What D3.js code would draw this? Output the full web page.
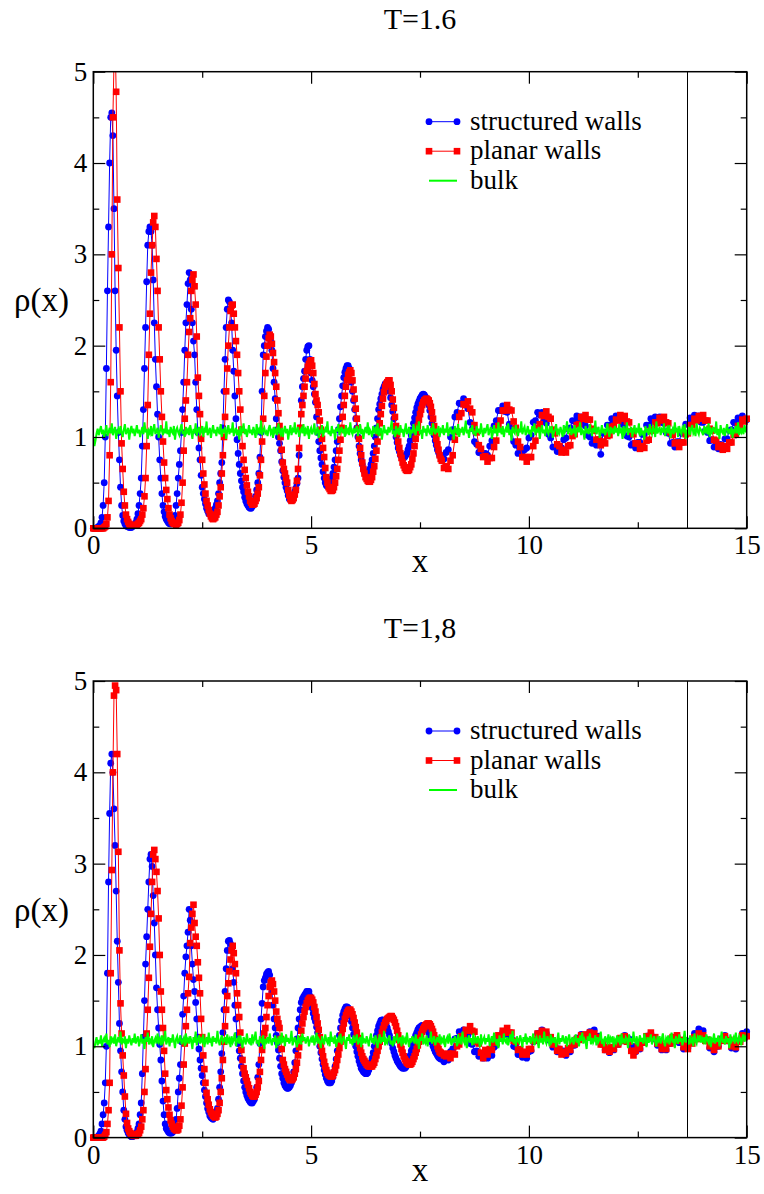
<!DOCTYPE html>
<html>
<head>
<meta charset="utf-8">
<script src="https://cdn.jsdelivr.net/npm/d3@7"></script>
<style>
  body { margin: 0; background: #fff; }
  text { font-family: "Liberation Serif", "Times New Roman", Times, serif; fill: #000; }
</style>
</head>
<body>
<svg id="chart" width="764" height="1194"></svg>
<script>
// axis ticks and labels
const xMajor = [0, 5, 10, 15];
const xMinor = [2.5, 7.5, 12.5];
const yMajor = [0, 1, 2, 3, 4, 5];
const yMinor = [0.5, 1.5, 2.5, 3.5, 4.5];
const titles = ['T=1.6', 'T=1,8'];
const legendLabels = ['structured walls', 'planar walls', 'bulk'];
const wallX = 13.63; // vertical marker line

// rho(x): one row per unit of x, samples evenly spaced inside the row
// T=1.6, structured walls
const structTop = [
  [0,0,0,0.005,0.01,0.02,0.03,0.06,0.12,0.25, 0.5,1.0,1.75,2.6,3.3,4.0,4.5,4.55,4.3,3.5, 2.6,1.95,1.45,1.05,0.75,0.45,0.25,0.14,0.08,0.05, 0.03,0.02,0.02,0.01,0.01,0.01,0.02,0.03,0.04,0.06],
  [0.1,0.16,0.25,0.38,0.55,0.9,1.3,1.75,2.2,2.7, 3.1,3.25,3.3,3.25,3.1,2.72,2.25,1.85,1.55,1.25, 1.0,0.75,0.55,0.38,0.25,0.18,0.13,0.1,0.08,0.06, 0.05,0.05,0.05,0.06,0.08,0.14,0.25,0.38,0.55,0.7],
  [0.85,1.05,1.3,1.6,1.95,2.25,2.45,2.68,2.8,2.72, 2.4,2.25,2.05,1.9,1.6,1.3,1.05,0.88,0.75,0.58, 0.45,0.38,0.32,0.27,0.22,0.19,0.16,0.15,0.15,0.16, 0.17,0.19,0.22,0.26,0.3,0.38,0.5,0.6,0.72,1.1],
  [1.5,1.85,2.2,2.4,2.5,2.48,2.4,2.25,1.95,1.72, 1.45,1.2,0.97,0.82,0.7,0.6,0.52,0.45,0.4,0.34, 0.3,0.27,0.25,0.23,0.22,0.22,0.24,0.26,0.3,0.35, 0.42,0.5,0.6,0.78,1.05,1.5,1.9,2.0,2.1,2.16],
  [2.2,2.18,2.12,2.05,1.95,1.75,1.6,1.42,1.2,1.08, 1.0,0.93,0.85,0.73,0.63,0.56,0.5,0.45,0.41,0.36, 0.32,0.31,0.32,0.34,0.36,0.4,0.44,0.49,0.55,0.8, 1.1,1.4,1.55,1.64,1.72,1.85,1.95,1.99,2.0,1.85],
  [1.7,1.62,1.55,1.47,1.38,1.22,1.05,0.95,0.85,0.77, 0.7,0.62,0.55,0.5,0.47,0.46,0.47,0.48,0.5,0.55, 0.6,0.67,0.75,0.85,0.95,1.08,1.2,1.33,1.45,1.56, 1.65,1.71,1.75,1.78,1.78,1.75,1.7,1.6,1.5,1.4],
  [1.3,1.2,1.1,1.0,0.9,0.82,0.75,0.7,0.65,0.62, 0.6,0.59,0.6,0.62,0.65,0.7,0.75,0.82,0.9,1.0, 1.1,1.2,1.3,1.36,1.42,1.47,1.52,1.55,1.58,1.59, 1.58,1.55,1.5,1.43,1.35,1.28,1.2,1.1,1.0,0.94],
  [0.88,0.84,0.8,0.79,0.78,0.77,0.78,0.8,0.82,0.86, 0.9,0.96,1.02,1.08,1.15,1.21,1.27,1.32,1.36,1.39, 1.42,1.44,1.46,1.47,1.46,1.44,1.42,1.39,1.35,1.29, 1.22,1.15,1.08,1.02,0.96,0.91,0.86,0.83,0.8,0.79],
  [0.78, 0.76, 0.83, 0.86, 1.0, 1.08, 1.22, 1.27, 1.37, 1.36, 1.42, 1.35, 1.31, 1.16, 1.09, 0.95, 0.92, 0.83, 0.84, 0.79],
  [0.82, 0.8, 0.9, 0.96, 1.12, 1.18, 1.29, 1.29, 1.34, 1.28, 1.27, 1.14, 1.09, 0.95, 0.91, 0.82, 0.84, 0.8, 0.86, 0.88],
  [0.99, 1.02, 1.16, 1.18, 1.27, 1.24, 1.27, 1.18, 1.15, 1.03, 0.99, 0.89, 0.89, 0.84, 0.89, 0.88, 0.97, 0.99, 1.09, 1.1],
  [1.18, 1.17, 1.23, 1.2, 1.22, 1.14, 1.12, 1.02, 1.0, 0.93, 0.95, 0.91, 0.97, 0.81, 1.04, 1.05, 1.13, 1.13, 1.2, 1.18],
  [1.23, 1.2, 1.22, 1.14, 1.12, 1.01, 1.0, 0.91, 0.93, 0.88, 0.94, 0.94, 1.03, 1.03, 1.13, 1.13, 1.2, 1.17, 1.22, 1.18],
  [1.22, 1.16, 1.15, 1.05, 1.04, 0.93, 0.94, 0.89, 0.95, 0.95, 1.04, 1.05, 1.14, 1.14, 1.21, 1.19, 1.24, 1.2, 1.23, 1.16],
  [1.16, 1.07, 1.05, 0.96, 0.97, 0.89, 0.92, 0.87, 0.92, 0.9, 0.98, 0.98, 1.07, 1.08, 1.16, 1.15, 1.21, 1.18, 1.23, 1.18],
  [1.19]
];
// T=1.6, planar walls
const planarTop = [
  [0,0,0,0,0,0,0,0,0,0, 0.01,0.02,0.05,0.12,0.3,0.8,1.6,3.0,4.5,5.1, 5.4,4.78,3.6,2.85,2.2,1.5,0.93,0.65,0.4,0.25, 0.15,0.1,0.07,0.05,0.04,0.03,0.03,0.03,0.03,0.03],
  [0.04,0.05,0.06,0.08,0.1,0.15,0.22,0.35,0.55,0.9, 1.35,1.9,2.35,2.8,3.1,3.35,3.42,3.3,2.95,2.6, 2.2,1.85,1.5,1.22,0.95,0.72,0.55,0.42,0.32,0.22, 0.15,0.11,0.08,0.06,0.05,0.05,0.04,0.05,0.06,0.09],
  [0.15,0.28,0.5,0.85,1.2,1.4,1.6,1.9,2.15,2.3, 2.6,2.72,2.78,2.65,2.45,2.1,1.65,1.45,1.25,0.98, 0.75,0.6,0.48,0.38,0.3,0.25,0.2,0.16,0.13,0.11, 0.1,0.11,0.12,0.15,0.18,0.25,0.35,0.45,0.6,0.8],
  [1.0,1.22,1.5,1.75,2.0,2.2,2.38,2.44,2.45,2.35, 2.2,2.05,1.9,1.7,1.5,1.3,1.08,0.9,0.75,0.64, 0.55,0.47,0.4,0.35,0.3,0.28,0.26,0.26,0.27,0.3, 0.33,0.38,0.45,0.58,0.75,0.95,1.2,1.45,1.7,1.88],
  [2.0,2.08,2.12,2.1,2.02,1.92,1.82,1.7,1.55,1.4, 1.26,1.12,1.0,0.86,0.72,0.65,0.6,0.55,0.5,0.42, 0.36,0.32,0.3,0.31,0.33,0.37,0.42,0.52,0.65,0.88, 1.1,1.25,1.35,1.45,1.55,1.64,1.72,1.77,1.8,1.83],
  [1.84,1.78,1.7,1.58,1.47,1.4,1.35,1.27,1.18,1.08, 0.98,0.88,0.78,0.66,0.56,0.5,0.45,0.43,0.41,0.41, 0.42,0.45,0.5,0.57,0.65,0.75,0.85,0.97,1.1,1.22, 1.35,1.45,1.55,1.62,1.68,1.71,1.73,1.7,1.62,1.52],
  [1.42,1.31,1.2,1.09,0.98,0.88,0.8,0.72,0.65,0.6, 0.56,0.54,0.52,0.51,0.51,0.53,0.56,0.62,0.68,0.76, 0.85,0.95,1.05,1.15,1.25,1.34,1.42,1.49,1.55,1.58, 1.6,1.62,1.62,1.57,1.5,1.41,1.32,1.22,1.12,1.03],
  [0.95,0.88,0.82,0.77,0.72,0.69,0.66,0.64,0.63,0.63, 0.64,0.67,0.7,0.76,0.82,0.9,0.98,1.05,1.12,1.19, 1.25,1.3,1.35,1.38,1.4,1.41,1.42,1.41,1.4,1.37, 1.33,1.27,1.2,1.12,1.05,0.98,0.92,0.86,0.8,0.76],
  [0.74, 0.66, 0.68, 0.65, 0.74, 0.8, 0.97, 1.06, 1.22, 1.26, 1.36, 1.35, 1.39, 1.31, 1.27, 1.13, 1.05, 0.91, 0.87, 0.78],
  [0.79, 0.73, 0.77, 0.77, 0.89, 0.96, 1.12, 1.18, 1.29, 1.29, 1.35, 1.3, 1.29, 1.17, 1.1, 0.95, 0.89, 0.78, 0.78, 0.73],
  [0.78, 0.78, 0.9, 0.96, 1.1, 1.14, 1.24, 1.23, 1.28, 1.22, 1.2, 1.08, 1.04, 0.92, 0.9, 0.83, 0.86, 0.83, 0.9, 0.91],
  [1.01, 1.03, 1.13, 1.14, 1.22, 1.2, 1.24, 1.19, 1.19, 1.09, 1.07, 0.97, 0.97, 0.91, 0.95, 0.93, 1.01, 1.02, 1.11, 1.12],
  [1.19, 1.18, 1.24, 1.2, 1.23, 1.17, 1.16, 1.06, 1.03, 0.93, 0.93, 0.87, 0.9, 0.88, 0.96, 0.97, 1.07, 1.08, 1.16, 1.15],
  [1.21, 1.18, 1.22, 1.16, 1.15, 1.05, 1.02, 0.93, 0.94, 0.89, 0.94, 0.94, 1.03, 1.04, 1.13, 1.13, 1.2, 1.18, 1.23, 1.2],
  [1.24, 1.18, 1.18, 1.09, 1.07, 0.97, 0.96, 0.89, 0.91, 0.86, 0.9, 0.87, 0.94, 0.94, 1.02, 1.03, 1.12, 1.12, 1.19, 1.17],
  [1.2]
];
// T=1.6, bulk
const bulkTop = [
  [1.00,0.90,0.96,1.04,1.09,1.02,1.07,1.12,1.03,1.08,0.99,1.06,1.13,1.01,1.05,1.10,1.04,1.15,1.02,1.07,1.11,0.98,1.06,1.09,1.03,1.12,1.05,1.00,1.08,1.14,1.03,1.06,1.10,0.97,1.07,1.12,1.04,1.09,1.01,1.06],
  [1.13,1.04,1.08,1.00,1.06,1.11,1.03,1.16,1.05,1.09,0.98,1.07,1.04,1.12,1.01,1.08,1.14,1.03,1.06,1.10,0.99,1.05,1.13,1.07,1.02,1.09,1.04,1.17,1.03,1.08,1.00,1.11,1.06,1.04,1.12,0.97,1.07,1.10,1.05,1.02],
  [1.09,1.14,1.03,1.07,1.00,1.11,1.05,1.08,1.02,1.13,1.06,0.98,1.09,1.04,1.15,1.01,1.07,1.11,1.03,1.06,1.12,1.00,1.08,1.05,1.17,1.02,1.06,1.10,0.99,1.07,1.13,1.04,1.08,1.01,1.11,1.06,1.03,1.14,1.00,1.09],
  [1.05,1.11,0.98,1.07,1.13,1.03,1.09,1.05,1.16,1.01,1.06,1.10,1.02,1.08,0.97,1.12,1.04,1.07,1.15,1.03,1.09,1.00,1.06,1.13,1.04,1.08,1.02,1.11,1.06,0.99,1.14,1.05,1.08,1.03,1.18,1.02,1.07,1.10,1.04,1.06],
  [1.01,1.09,1.13,1.04,1.07,0.99,1.11,1.05,1.08,1.02,1.15,1.06,1.03,1.10,1.00,1.07,1.12,1.04,1.09,0.97,1.06,1.13,1.02,1.08,1.05,1.16,1.03,1.07,1.11,1.00,1.06,1.09,1.04,1.14,1.01,1.08,1.05,1.12,0.98,1.07],
  [1.10,1.03,1.07,1.15,1.02,1.06,1.11,0.99,1.08,1.04,1.13,1.00,1.06,1.09,1.05,1.17,1.03,1.07,1.01,1.12,1.04,1.08,0.97,1.10,1.06,1.14,1.02,1.07,1.11,1.04,1.09,1.00,1.13,1.05,1.08,1.02,1.16,1.06,1.03,1.10],
  [1.04,1.08,1.12,1.01,1.06,1.14,1.03,1.09,0.98,1.07,1.11,1.04,1.16,1.02,1.08,1.05,1.00,1.12,1.06,1.09,1.03,1.15,1.01,1.07,1.10,0.97,1.06,1.13,1.04,1.08,1.02,1.11,1.05,1.09,1.18,1.03,1.07,1.00,1.12,1.05],
  [1.08,1.02,1.13,1.05,1.09,1.00,1.07,1.15,1.03,1.06,1.11,0.99,1.08,1.04,1.14,1.06,1.02,1.10,1.07,1.17,1.03,1.08,0.98,1.12,1.05,1.09,1.01,1.13,1.06,1.04,1.10,1.02,1.15,1.07,1.03,1.09,1.05,1.12,1.00,1.08],
  [1.06,1.13,1.02,1.09,1.05,1.16,1.01,1.07,1.11,1.03,1.08,0.97,1.12,1.06,1.04,1.14,1.00,1.09,1.05,1.11,1.02,1.07,1.18,1.04,1.08,0.99,1.10,1.06,1.13,1.03,1.07,1.01,1.12,1.05,1.09,1.03,1.15,1.06,1.00,1.10],
  [1.04,1.09,1.14,1.02,1.07,1.11,0.98,1.06,1.13,1.04,1.09,1.01,1.16,1.05,1.08,1.03,1.12,1.00,1.07,1.10,1.05,1.15,1.02,1.08,0.96,1.11,1.06,1.04,1.13,1.07,1.01,1.09,1.05,1.17,1.03,1.08,1.11,1.02,1.06,1.12],
  [1.03,1.08,1.00,1.12,1.06,1.15,1.02,1.09,1.05,1.11,0.98,1.07,1.13,1.04,1.08,1.01,1.16,1.06,1.03,1.10,1.07,1.12,0.99,1.05,1.09,1.14,1.02,1.07,1.04,1.11,1.06,1.00,1.13,1.05,1.08,1.17,1.03,1.07,1.10,1.02],
  [1.09,1.04,1.13,1.00,1.07,1.11,1.05,1.16,1.02,1.08,1.06,0.97,1.12,1.04,1.09,1.03,1.14,1.07,1.01,1.10,1.05,1.18,1.03,1.08,1.11,0.99,1.06,1.13,1.04,1.09,1.02,1.07,1.15,1.05,1.00,1.11,1.06,1.08,1.03,1.12],
  [1.05,1.10,1.01,1.14,1.06,1.08,0.98,1.12,1.04,1.07,1.16,1.02,1.09,1.05,1.11,1.00,1.07,1.13,1.03,1.08,1.06,1.15,1.01,1.10,1.04,1.07,0.97,1.12,1.05,1.09,1.02,1.14,1.06,1.03,1.11,1.08,1.00,1.17,1.04,1.07],
  [1.11,1.02,1.08,1.05,1.15,1.01,1.07,1.10,1.04,1.13,0.99,1.06,1.09,1.03,1.16,1.05,1.08,1.00,1.12,1.06,1.03,1.10,1.07,1.14,0.98,1.08,1.05,1.11,1.02,1.09,1.13,1.04,1.07,1.01,1.15,1.06,1.03,1.10,1.08,1.05],
  [1.02,1.12,1.06,1.09,1.03,1.15,1.00,1.08,1.05,1.11,1.07,1.04,1.17,1.02,1.09,0.98,1.13,1.06,1.04,1.10,1.01,1.08,1.14,1.05,1.07,1.03,1.11,0.99,1.09,1.06,1.12,1.04,1.16,1.02,1.08,1.05,1.10,1.03,1.13,1.07],
  [1.09]
];

// T=1,8, structured walls
const structBottom = [
  [0,0,0,0,0.01,0.02,0.04,0.07,0.15,0.25, 0.38,0.6,1.0,1.8,2.8,3.55,4.1,4.2,4.0,3.6, 3.2,2.7,2.15,1.7,1.25,0.95,0.72,0.5,0.3,0.2, 0.12,0.08,0.05,0.03,0.02,0.01,0.01,0.02,0.03,0.04],
  [0.06,0.1,0.15,0.25,0.38,0.7,1.1,1.5,1.9,2.2, 2.5,2.8,3.05,3.1,2.97,2.65,2.35,2.0,1.64,1.4, 1.2,1.02,0.85,0.62,0.4,0.25,0.15,0.1,0.08,0.06, 0.05,0.05,0.05,0.06,0.08,0.13,0.2,0.32,0.5,0.65],
  [0.8,1.05,1.35,1.55,1.8,1.98,2.1,2.25,2.5,2.38, 2.1,1.9,1.73,1.6,1.48,1.3,1.1,0.97,0.85,0.76, 0.68,0.6,0.52,0.45,0.38,0.32,0.28,0.24,0.22,0.21, 0.2,0.22,0.24,0.28,0.32,0.42,0.55,0.72,0.92,1.15],
  [1.4,1.6,1.85,2.05,2.15,2.16,2.12,2.05,1.85,1.7, 1.45,1.3,1.12,1.03,0.95,0.87,0.78,0.7,0.62,0.55, 0.5,0.46,0.43,0.41,0.39,0.38,0.38,0.4,0.42,0.48, 0.55,0.66,0.8,1.03,1.3,1.47,1.65,1.72,1.75,1.79],
  [1.81,1.82,1.78,1.7,1.6,1.45,1.3,1.2,1.12,1.04, 0.96,0.87,0.78,0.7,0.65,0.6,0.57,0.55,0.54,0.54, 0.55,0.57,0.6,0.65,0.72,0.82,0.95,1.08,1.2,1.3, 1.4,1.48,1.52,1.54,1.56,1.58,1.6,1.6,1.6,1.55],
  [1.48,1.42,1.36,1.31,1.27,1.21,1.15,1.08,1.0,0.93, 0.86,0.8,0.74,0.69,0.65,0.62,0.6,0.6,0.6,0.62, 0.66,0.72,0.78,0.86,0.95,1.04,1.12,1.2,1.28,1.34, 1.38,1.41,1.43,1.43,1.42,1.38,1.33,1.27,1.2,1.13],
  [1.06,1.0,0.94,0.89,0.84,0.8,0.76,0.74,0.72,0.71, 0.7,0.7,0.71,0.74,0.77,0.82,0.87,0.93,1.0,1.06, 1.12,1.17,1.22,1.25,1.28,1.29,1.29,1.28,1.26,1.23, 1.2,1.16,1.12,1.07,1.03,0.98,0.94,0.9,0.87,0.84],
  [0.82,0.8,0.78,0.77,0.76,0.76,0.76,0.77,0.79,0.82, 0.86,0.9,0.95,1.0,1.04,1.08,1.12,1.15,1.18,1.2, 1.21,1.22,1.23,1.23,1.23,1.22,1.2,1.18,1.15,1.12, 1.08,1.04,1.0,0.97,0.94,0.92,0.9,0.88,0.87,0.86],
  [0.86, 0.83, 0.87, 0.85, 0.94, 0.97, 1.08, 1.09, 1.16, 1.14, 1.18, 1.12, 1.12, 1.03, 1.02, 0.94, 0.95, 0.89, 0.92, 0.87],
  [0.91, 0.87, 0.91, 0.9, 0.99, 1.01, 1.1, 1.1, 1.16, 1.13, 1.16, 1.09, 1.09, 1.0, 0.99, 0.91, 0.93, 0.88, 0.91, 0.87],
  [0.94, 0.95, 1.05, 1.06, 1.14, 1.12, 1.18, 1.13, 1.14, 1.07, 1.07, 0.99, 1.0, 0.94, 0.97, 0.92, 0.95, 0.9, 0.95, 0.94],
  [1.01, 1.01, 1.09, 1.08, 1.13, 1.1, 1.12, 1.1, 1.16, 1.13, 1.18, 1.11, 1.11, 1.03, 1.03, 0.96, 0.98, 0.93, 0.98, 0.96],
  [1.03, 1.02, 1.08, 1.06, 1.12, 1.07, 1.08, 1.0, 1.0, 0.94, 0.99, 0.97, 1.04, 1.04, 1.11, 1.09, 1.14, 1.08, 1.09, 1.01],
  [1.02, 0.96, 0.99, 0.96, 1.03, 1.03, 1.1, 1.08, 1.11, 1.04, 1.04, 0.97, 1.0, 0.98, 1.06, 1.06, 1.14, 1.13, 1.19, 1.16],
  [1.17, 1.08, 1.07, 0.98, 0.99, 0.94, 1.0, 1.0, 1.08, 1.07, 1.12, 1.06, 1.06, 0.98, 1.0, 0.97, 1.05, 1.06, 1.14, 1.13],
  [1.16]
];
// T=1,8, planar walls
const planarBottom = [
  [0,0,0,0,0,0,0,0,0,0, 0.01,0.03,0.06,0.15,0.3,0.6,1.8,2.93,4.0,4.84, 4.95,4.9,4.2,3.13,2.05,1.47,1.14,0.9,0.68,0.45, 0.26,0.16,0.1,0.07,0.05,0.04,0.03,0.02,0.02,0.02],
  [0.03,0.04,0.05,0.08,0.12,0.2,0.3,0.5,0.75,1.14, 1.4,1.75,2.09,2.45,2.8,3.1,3.15,3.05,2.91,2.7, 2.4,2.0,1.6,1.4,1.2,0.95,0.7,0.52,0.42,0.33, 0.25,0.19,0.15,0.12,0.1,0.09,0.08,0.08,0.09,0.13],
  [0.2,0.35,0.55,0.8,1.03,1.22,1.4,1.58,1.76,2.13, 2.3,2.45,2.55,2.35,2.2,2.1,1.92,1.75,1.58,1.3, 1.1,0.9,0.75,0.6,0.49,0.42,0.36,0.31,0.28,0.26, 0.24,0.23,0.22,0.23,0.26,0.3,0.38,0.5,0.65,0.85],
  [1.05,1.22,1.4,1.55,1.69,1.82,1.95,2.05,2.1,2.02, 1.9,1.8,1.58,1.45,1.32,1.15,0.96,0.85,0.76,0.7, 0.66,0.62,0.58,0.54,0.5,0.48,0.46,0.45,0.45,0.47, 0.5,0.55,0.62,0.72,0.85,0.96,1.07,1.14,1.2,1.32],
  [1.45,1.55,1.65,1.7,1.72,1.68,1.6,1.5,1.38,1.3, 1.25,1.2,1.08,0.97,0.85,0.8,0.75,0.72,0.69,0.66, 0.64,0.63,0.63,0.64,0.66,0.7,0.75,0.82,0.9,0.99, 1.08,1.17,1.25,1.32,1.38,1.43,1.47,1.5,1.52,1.53],
  [1.53,1.51,1.48,1.43,1.38,1.32,1.25,1.18,1.1,1.02, 0.95,0.89,0.83,0.78,0.74,0.71,0.69,0.68,0.67,0.67, 0.68,0.71,0.74,0.79,0.85,0.91,0.98,1.05,1.12,1.19, 1.25,1.3,1.34,1.37,1.39,1.4,1.4,1.38,1.35,1.31],
  [1.26,1.21,1.15,1.09,1.03,0.98,0.93,0.89,0.86,0.84, 0.82,0.8,0.79,0.78,0.78,0.78,0.78,0.8,0.82,0.86, 0.9,0.95,1.0,1.05,1.1,1.15,1.19,1.23,1.26,1.28, 1.3,1.31,1.32,1.33,1.33,1.31,1.29,1.26,1.22,1.17],
  [1.12,1.07,1.02,0.97,0.93,0.89,0.86,0.84,0.82,0.81, 0.8,0.8,0.81,0.83,0.86,0.89,0.93,0.97,1.01,1.05, 1.09,1.13,1.16,1.19,1.21,1.23,1.24,1.25,1.25,1.24, 1.22,1.19,1.16,1.12,1.08,1.04,1.0,0.97,0.94,0.93],
  [0.92, 0.9, 0.89, 0.92, 0.87, 0.92, 0.91, 1.0, 1.02, 1.11, 1.11, 1.18, 1.17, 1.22, 1.17, 1.16, 1.05, 1.03, 0.93, 0.87],
  [0.96, 0.91, 0.97, 0.96, 1.04, 1.04, 1.12, 1.11, 1.17, 1.15, 1.2, 1.15, 1.15, 1.06, 1.05, 0.96, 0.97, 0.91, 0.94, 0.91],
  [0.97, 0.97, 1.06, 1.07, 1.14, 1.12, 1.17, 1.14, 1.16, 1.09, 1.1, 1.02, 1.02, 0.95, 0.97, 0.91, 0.94, 0.92, 0.98, 0.96],
  [1.03, 1.02, 1.08, 1.07, 1.12, 1.1, 1.13, 1.11, 1.15, 1.12, 1.14, 1.09, 1.1, 1.02, 1.02, 0.96, 0.99, 0.94, 0.99, 0.97],
  [1.04, 1.02, 1.09, 1.06, 1.11, 1.05, 1.05, 0.95, 0.9, 0.95, 1.0, 0.98, 1.05, 1.04, 1.11, 1.1, 1.15, 1.09, 1.1, 1.03],
  [1.04, 0.97, 1.0, 0.97, 1.04, 1.03, 1.1, 1.08, 1.12, 1.06, 1.07, 0.99, 1.01, 0.97, 1.04, 1.03, 1.1, 1.08, 1.14, 1.09],
  [1.12, 1.06, 1.07, 1.0, 1.01, 0.96, 1.01, 1.0, 1.07, 1.06, 1.11, 1.06, 1.07, 1.0, 1.02, 0.99, 1.06, 1.05, 1.12, 1.1],
  [1.11]
];
// T=1,8, bulk
const bulkBottom = [
  [1.02,0.98,1.05,1.10,1.01,1.07,1.03,1.12,1.00,1.06,1.09,1.04,1.14,1.02,1.07,0.99,1.11,1.05,1.08,1.03,1.13,1.00,1.06,1.10,1.04,1.16,1.02,1.07,1.05,1.11,0.98,1.08,1.03,1.12,1.06,1.01,1.09,1.04,1.14,1.03],
  [1.07,1.11,1.00,1.06,1.13,1.03,1.08,0.97,1.10,1.05,1.15,1.02,1.07,1.04,1.11,0.99,1.06,1.09,1.03,1.14,1.05,1.08,1.01,1.12,1.04,1.07,1.17,1.02,1.06,1.10,1.00,1.09,1.04,1.13,1.06,0.98,1.08,1.11,1.03,1.07],
  [1.12,1.02,1.06,1.09,1.00,1.14,1.05,1.08,1.03,1.11,1.06,0.97,1.10,1.04,1.16,1.01,1.07,1.12,1.03,1.08,1.05,1.13,0.99,1.06,1.10,1.02,1.15,1.04,1.07,1.00,1.11,1.05,1.09,1.03,1.17,1.06,1.01,1.08,1.12,1.04],
  [1.06,1.10,1.02,1.13,1.05,1.08,0.99,1.11,1.04,1.07,1.15,1.00,1.06,1.09,1.03,1.12,1.05,0.98,1.10,1.07,1.02,1.14,1.06,1.04,1.09,1.01,1.13,1.05,1.08,1.16,1.03,1.07,1.00,1.11,1.06,1.04,1.12,0.97,1.08,1.05],
  [1.10,1.03,1.14,1.06,1.01,1.09,1.05,1.12,0.98,1.07,1.04,1.11,1.02,1.15,1.06,1.08,1.00,1.13,1.05,1.09,1.03,1.07,1.17,1.01,1.06,1.10,1.04,0.99,1.12,1.05,1.08,1.02,1.14,1.06,1.10,1.03,1.07,1.11,1.00,1.06],
  [1.09,1.04,1.12,1.01,1.07,1.15,1.03,1.08,1.05,0.98,1.11,1.06,1.02,1.13,1.07,1.04,1.10,1.00,1.16,1.05,1.08,1.03,1.12,0.99,1.06,1.09,1.04,1.14,1.02,1.07,1.11,1.05,0.97,1.10,1.06,1.13,1.03,1.08,1.01,1.12],
  [1.04,1.08,1.13,1.02,1.06,1.10,0.99,1.15,1.05,1.07,1.03,1.11,1.06,1.00,1.09,1.14,1.04,1.07,1.02,1.12,1.08,0.98,1.06,1.13,1.03,1.10,1.05,1.17,1.01,1.07,1.04,1.09,1.12,1.02,1.06,1.00,1.11,1.05,1.08,1.14],
  [1.03,1.07,1.10,1.00,1.12,1.05,1.08,1.02,1.15,1.06,0.99,1.09,1.04,1.11,1.07,1.03,1.13,1.05,1.08,0.97,1.10,1.06,1.14,1.02,1.07,1.04,1.12,1.00,1.09,1.05,1.16,1.03,1.07,1.11,1.01,1.06,1.10,1.04,1.13,1.02],
  [1.08,1.05,1.12,0.99,1.07,1.10,1.03,1.14,1.06,1.01,1.09,1.04,1.11,1.07,1.00,1.13,1.05,1.08,1.02,1.16,1.06,1.03,1.10,0.98,1.07,1.12,1.04,1.09,1.01,1.14,1.05,1.08,1.03,1.11,1.06,0.99,1.13,1.04,1.07,1.10],
  [1.02,1.09,1.05,1.13,1.00,1.07,1.11,1.04,1.15,1.06,1.03,1.08,0.98,1.12,1.05,1.09,1.02,1.14,1.06,1.04,1.10,1.01,1.07,1.13,1.05,1.17,1.03,1.08,1.00,1.11,1.06,1.04,1.12,1.07,0.99,1.10,1.05,1.14,1.02,1.08],
  [1.06,1.11,1.03,1.08,1.14,1.01,1.07,1.10,1.05,0.98,1.12,1.04,1.09,1.02,1.16,1.06,1.03,1.11,1.07,1.00,1.13,1.05,1.08,1.04,1.10,0.99,1.06,1.15,1.02,1.09,1.05,1.12,1.07,1.03,1.11,1.00,1.08,1.13,1.04,1.06],
  [1.10,1.02,1.07,1.13,1.04,1.09,1.00,1.12,1.06,1.15,1.03,1.08,1.05,0.97,1.11,1.06,1.14,1.02,1.09,1.04,1.07,1.12,1.01,1.10,1.05,1.08,1.16,1.03,1.06,1.00,1.11,1.07,1.04,1.13,1.02,1.09,1.06,1.11,0.99,1.07],
  [1.04,1.12,1.06,1.09,1.01,1.14,1.05,1.07,1.03,1.10,1.08,0.98,1.13,1.05,1.09,1.02,1.16,1.06,1.04,1.11,1.00,1.07,1.12,1.05,1.09,1.03,1.14,1.06,0.99,1.10,1.04,1.08,1.13,1.02,1.07,1.11,1.05,1.00,1.09,1.06],
  [1.11,1.03,1.08,1.14,1.05,1.00,1.09,1.06,1.12,1.02,1.07,1.15,1.04,1.08,0.98,1.11,1.06,1.03,1.13,1.05,1.09,1.01,1.07,1.17,1.04,1.10,1.06,1.02,1.12,1.05,1.08,1.00,1.14,1.06,1.03,1.10,1.07,1.12,1.04,1.09],
  [1.05,1.10,1.02,1.13,1.07,1.04,1.11,0.99,1.08,1.06,1.14,1.03,1.09,1.05,1.12,1.00,1.07,1.16,1.04,1.08,1.02,1.11,1.06,1.09,0.98,1.13,1.05,1.07,1.10,1.03,1.15,1.06,1.04,1.11,1.08,1.01,1.09,1.13,1.05,1.10],
  [1.08]
];

const panels = [
  { title: titles[0], struct: structTop, planar: planarTop, bulk: bulkTop },
  { title: titles[1], struct: structBottom, planar: planarBottom, bulk: bulkBottom }
];

const colors = { struct: '#0000ff', planar: '#ff0000', bulk: '#00ff00' };
const plotLeft = 93.3, plotRight = 746.7, plotH = 456.6;
const panelTops = [71.7, 681];
const tickFont = 27, labelFont = 33, titleFont = 30;
const dotR = 3.4, sq = 6.6;

// unit rows -> {x, y} points
function toPoints(rows) {
  return rows.flatMap((row, u) => row.map((v, j) => ({ x: u + j / row.length, y: v })));
}

const svg = d3.select('#chart');

panels.forEach((p, k) => {
  const top = panelTops[k];
  const bottom = top + plotH;
  const x = d3.scaleLinear().domain([0, 15]).range([plotLeft, plotRight]);
  const y = d3.scaleLinear().domain([0, 5]).range([bottom, top]);
  const line = d3.line().x(d => x(d.x)).y(d => y(d.y));

  const clipId = 'plotclip' + k;
  svg.append('clipPath').attr('id', clipId)
    .append('rect')
      .attr('x', plotLeft).attr('y', top)
      .attr('width', plotRight - plotLeft).attr('height', plotH);

  const g = svg.append('g');
  const inside = d => d.y >= 0 && d.y <= 5;

  // structured walls: blue line + circles
  const sPts = toPoints(p.struct);
  g.append('path')
    .attr('clip-path', `url(#${clipId})`)
    .attr('d', line(sPts))
    .attr('fill', 'none').attr('stroke', colors.struct).attr('stroke-width', 1);
  g.append('g').selectAll('circle')
    .data(sPts.filter(inside))
    .join('circle')
      .attr('cx', d => x(d.x)).attr('cy', d => y(d.y))
      .attr('r', dotR).attr('fill', colors.struct);

  // planar walls: red line + squares
  const pPts = toPoints(p.planar);
  g.append('path')
    .attr('clip-path', `url(#${clipId})`)
    .attr('d', line(pPts))
    .attr('fill', 'none').attr('stroke', colors.planar).attr('stroke-width', 1);
  g.append('g').selectAll('rect')
    .data(pPts.filter(inside))
    .join('rect')
      .attr('x', d => x(d.x) - sq / 2).attr('y', d => y(d.y) - sq / 2)
      .attr('width', sq).attr('height', sq).attr('fill', colors.planar);

  // bulk: green line
  g.append('path')
    .attr('clip-path', `url(#${clipId})`)
    .attr('d', line(toPoints(p.bulk)))
    .attr('fill', 'none').attr('stroke', colors.bulk).attr('stroke-width', 2);

  // vertical marker line
  g.append('line')
    .attr('x1', x(wallX)).attr('x2', x(wallX))
    .attr('y1', top).attr('y2', bottom)
    .attr('stroke', '#000').attr('stroke-width', 1)
    .attr('shape-rendering', 'crispEdges');

  // axes, ticks pointing inward
  const styleAxis = sel => {
    sel.select('.domain').remove();
    sel.selectAll('.tick line').attr('stroke', '#000').attr('stroke-width', 1.2);
    sel.selectAll('.tick text').attr('font-size', tickFont)
      .attr('font-family', '"Liberation Serif", "Times New Roman", serif').attr('fill', '#000');
  };
  svg.append('g').attr('transform', `translate(0,${bottom})`)
    .call(d3.axisBottom(x).tickValues(xMajor).tickSize(-12).tickPadding(7).tickFormat(d3.format('d')))
    .call(styleAxis);
  svg.append('g').attr('transform', `translate(0,${bottom})`)
    .call(d3.axisBottom(x).tickValues(xMinor).tickSize(-6).tickFormat(''))
    .call(styleAxis);
  svg.append('g').attr('transform', `translate(0,${top})`)
    .call(d3.axisTop(x).tickValues(xMajor).tickSize(-12).tickFormat(''))
    .call(styleAxis);
  svg.append('g').attr('transform', `translate(0,${top})`)
    .call(d3.axisTop(x).tickValues(xMinor).tickSize(-6).tickFormat(''))
    .call(styleAxis);
  svg.append('g').attr('transform', `translate(${plotLeft},0)`)
    .call(d3.axisLeft(y).tickValues(yMajor).tickSize(-12).tickPadding(6).tickFormat(d3.format('d')))
    .call(styleAxis);
  svg.append('g').attr('transform', `translate(${plotLeft},0)`)
    .call(d3.axisLeft(y).tickValues(yMinor).tickSize(-6).tickFormat(''))
    .call(styleAxis);
  svg.append('g').attr('transform', `translate(${plotRight},0)`)
    .call(d3.axisRight(y).tickValues(yMajor).tickSize(-12).tickFormat(''))
    .call(styleAxis);
  svg.append('g').attr('transform', `translate(${plotRight},0)`)
    .call(d3.axisRight(y).tickValues(yMinor).tickSize(-6).tickFormat(''))
    .call(styleAxis);

  // frame
  svg.append('rect')
    .attr('x', plotLeft).attr('y', top)
    .attr('width', plotRight - plotLeft).attr('height', plotH)
    .attr('fill', 'none').attr('stroke', '#000').attr('stroke-width', 1.5);

  // title and axis labels
  svg.append('text')
    .attr('x', (plotLeft + plotRight) / 2).attr('y', top - 42.7)
    .attr('text-anchor', 'middle').attr('font-size', titleFont)
    .text(p.title);
  svg.append('text')
    .attr('x', (plotLeft + plotRight) / 2).attr('y', bottom + 43.5)
    .attr('text-anchor', 'middle').attr('font-size', labelFont)
    .text('x');
  svg.append('text')
    .attr('x', 41.5).attr('y', top + 239.5)
    .attr('text-anchor', 'middle').attr('font-size', labelFont)
    .text('ρ(x)');

  // legend
  const leg = svg.append('g').attr('transform', `translate(0,${top})`);
  const keys = ['struct', 'planar', 'bulk'];
  keys.forEach((key, i) => {
    const ly = 50 + i * 29.5;
    leg.append('line')
      .attr('x1', 429).attr('x2', 457).attr('y1', ly).attr('y2', ly)
      .attr('stroke', colors[key]).attr('stroke-width', key === 'bulk' ? 2 : 1);
    if (key === 'struct') {
      [429, 457].forEach(cx => leg.append('circle')
        .attr('cx', cx).attr('cy', ly).attr('r', dotR).attr('fill', colors[key]));
    } else if (key === 'planar') {
      [429, 457].forEach(cx => leg.append('rect')
        .attr('x', cx - sq / 2).attr('y', ly - sq / 2).attr('width', sq).attr('height', sq).attr('fill', colors[key]));
    }
    leg.append('text')
      .attr('x', 470).attr('y', ly).attr('dy', '0.3em')
      .attr('font-size', tickFont)
      .text(legendLabels[i]);
  });
});
</script>
</body>
</html>
